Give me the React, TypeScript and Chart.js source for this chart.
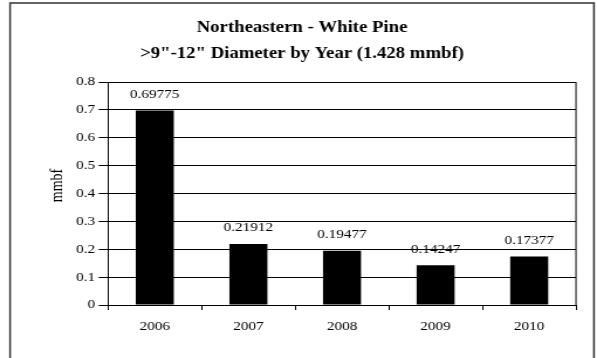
import React, { useEffect, useRef } from "react";
import { Chart, registerables } from "chart.js";

Chart.register(...registerables);

const categories = ["2006", "2007", "2008", "2009", "2010"];
const values = [0.69775, 0.21912, 0.19477, 0.14247, 0.17377];
const valueLabels = ["0.69775", "0.21912", "0.19477", "0.14247", "0.17377"];
const titleLines = ["Northeastern - White Pine", '>9"-12" Diameter by Year (1.428 mmbf)'];
const yAxisTitle = "mmbf";
const yTickValues = [0, 0.1, 0.2, 0.3, 0.4, 0.5, 0.6, 0.7, 0.8];
const yTickLabels = ["0", "0.1", "0.2", "0.3", "0.4", "0.5", "0.6", "0.7", "0.8"];

const CANVAS_W = 510;
const CANVAS_H = 358;
const FONT = "Liberation Serif, serif";

const frame = {
  id: "frame",
  beforeDraw(chart: any) {
    const ctx = chart.ctx;
    ctx.save();
    ctx.fillStyle = "#ffffff";
    ctx.fillRect(0, 0, chart.width, chart.height);
    ctx.strokeStyle = "#333333";
    ctx.lineWidth = 1.5;
    ctx.strokeRect(8.6, 3, 498.8, 420);
    ctx.restore();
  },
  afterDraw(chart: any) {
    const ctx = chart.ctx;
    const a = chart.chartArea;
    ctx.save();
    ctx.strokeStyle = "#000000";
    ctx.lineWidth = 1;
    ctx.beginPath();
    ctx.moveTo(a.right, a.top);
    ctx.lineTo(a.right, a.bottom);
    ctx.stroke();

    // chart title (two lines, bold serif)
    const cx = 258;
    const baselines = [32, 57.5];
    ctx.fillStyle = "#000000";
    ctx.strokeStyle = "#000000";
    ctx.textAlign = "center";
    ctx.textBaseline = "alphabetic";
    ctx.font = `bold 16px ${FONT}`;
    const em = ctx.measureText(titleLines[0]).width / 16;
    const realBold = em < 11.7;
    if (!realBold) {
      ctx.font = `17px ${FONT}`;
      ctx.lineWidth = 0.75;
    }
    titleLines.forEach((t, i) => {
      ctx.fillText(t, cx, baselines[i]);
      if (!realBold) ctx.strokeText(t, cx, baselines[i]);
    });

    // y axis title, rotated beside the axis
    ctx.translate(49, (a.top + a.bottom) / 2 - 8);
    ctx.rotate(-Math.PI / 2);
    ctx.font = `14px ${FONT}`;
    ctx.textAlign = "center";
    ctx.textBaseline = "middle";
    ctx.fillText(yAxisTitle, 0, 0);
    ctx.restore();
  },
};

const barLabels = {
  id: "barLabels",
  afterDatasetsDraw(chart: any) {
    const ctx = chart.ctx;
    const meta = chart.getDatasetMeta(0);
    ctx.save();
    ctx.font = `13px ${FONT}`;
    ctx.fillStyle = "#000000";
    ctx.textAlign = "center";
    ctx.textBaseline = "middle";
    meta.data.forEach((el: any, i: number) => {
      ctx.fillText(valueLabels[i], el.x, el.y - 16);
    });
    ctx.restore();
  },
};

export default function App() {
  const ref = useRef<HTMLCanvasElement | null>(null);

  useEffect(() => {
    if (!ref.current) return;
    const chart = new Chart(ref.current, {
      type: "bar",
      data: {
        labels: categories,
        datasets: [
          {
            data: values,
            backgroundColor: "#000000",
            borderWidth: 0,
            barPercentage: 0.406,
            categoryPercentage: 1,
          },
        ],
      },
      options: {
        animation: false,
        responsive: false,
        devicePixelRatio: 1,
        layout: { padding: { left: 0, right: 17.95, top: 82, bottom: 0 } },
        plugins: {
          legend: { display: false },
          tooltip: { enabled: false },
          title: { display: false },
        },
        scales: {
          x: {
            afterFit(scale: any) {
              scale.height = 53;
            },
            grid: {
              display: true,
              drawOnChartArea: false,
              drawTicks: true,
              tickLength: 5,
              color: "#000000",
              offset: true,
            },
            border: { display: true, color: "#000000", width: 1 },
            ticks: {
              color: "#000000",
              font: { family: FONT, size: 13 },
              padding: 9,
              maxRotation: 0,
            },
          },
          y: {
            min: 0,
            max: 0.8,
            afterFit(scale: any) {
              scale.width = 92.26;
            },
            afterBuildTicks(scale: any) {
              scale.ticks = yTickValues.map((v) => ({ value: v }));
            },
            grid: {
              color: "#000000",
              lineWidth: 1,
              drawTicks: true,
              tickLength: 8,
            },
            border: { display: true, color: "#000000", width: 1 },
            ticks: {
              color: "#000000",
              font: { family: FONT, size: 13 },
              padding: 3,
              callback: (_v: any, i: number) => yTickLabels[i],
            },
            title: { display: false },
          },
        },
      },
      plugins: [frame, barLabels],
    } as any);
    return () => chart.destroy();
  }, []);

  return (
    <canvas
      ref={ref}
      width={CANVAS_W}
      height={CANVAS_H}
      style={{ position: "absolute", left: 0, top: 0, width: "597px", height: "358px", display: "block" }}
    />
  );
}
